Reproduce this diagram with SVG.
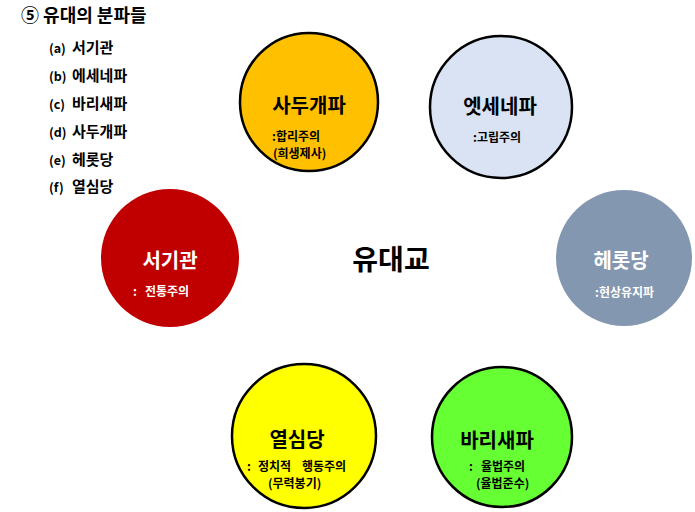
<svg xmlns="http://www.w3.org/2000/svg" width="695" height="512" viewBox="0 0 695 512">
<style>
text{font-family:"Noto Sans CJK KR","Noto Sans",sans-serif;font-weight:bold;fill:#000}
.t{font-size:18px}
.li{font-size:15px}
.lp{font-size:12.5px}
.lab{font-size:20px;text-anchor:middle}
.sub{font-size:12px}
.w{fill:#fff}
.bd{stroke:#000;stroke-width:2.5}
</style>
<rect width="695" height="512" fill="#fff"/>
<g id="title">
<text class="t" x="21" y="22">⑤ 유대의 분파들</text>
</g>
<g id="list">
<text x="49" y="53"><tspan class="lp">(a)</tspan><tspan class="li" x="72">서기관</tspan></text>
<text x="49" y="81"><tspan class="lp">(b)</tspan><tspan class="li" x="72">에세네파</tspan></text>
<text x="49" y="109"><tspan class="lp">(c)</tspan><tspan class="li" x="72">바리새파</tspan></text>
<text x="49" y="137"><tspan class="lp">(d)</tspan><tspan class="li" x="72">사두개파</tspan></text>
<text x="49" y="165"><tspan class="lp">(e)</tspan><tspan class="li" x="72">헤롯당</tspan></text>
<text x="49" y="192"><tspan class="lp">(f)</tspan><tspan class="li" x="72">열심당</tspan></text>
</g>
<g id="center">
<text x="391" y="270" font-size="28" text-anchor="middle">유대교</text>
</g>
<g id="sadducees">
<circle cx="309" cy="102" r="69" fill="#FFC000" class="bd"/>
<text class="lab" x="309" y="113">사두개파</text>
<text class="sub" x="272" y="140.5">:합리주의</text>
<text class="sub" x="273" y="158">(희생제사)</text>
</g>
<g id="essenes">
<circle cx="501" cy="107" r="71" fill="#DAE3F3" class="bd"/>
<text class="lab" x="500" y="114">엣세네파</text>
<text class="sub" x="473" y="142">:고립주의</text>
</g>
<g id="scribes">
<circle cx="170" cy="258" r="69" fill="#C00000"/>
<text class="lab w" x="170" y="268">서기관</text>
<text class="sub w" x="133" y="296">:<tspan x="145">전통주의</tspan></text>
</g>
<g id="herodians">
<circle cx="624" cy="258" r="68" fill="#8497B0"/>
<text class="lab w" x="621" y="268">헤롯당</text>
<text class="sub w" x="595" y="297">:현상유지파</text>
</g>
<g id="zealots">
<circle cx="304" cy="436" r="72" fill="#FFFF00" class="bd"/>
<text class="lab" x="297" y="447">열심당</text>
<text class="sub" x="247" y="470.5">:<tspan x="258">정치적</tspan><tspan x="302">행동주의</tspan></text>
<text class="sub" x="268" y="488">(무력봉기)</text>
</g>
<g id="pharisees">
<circle cx="502" cy="437" r="70" fill="#66FF33" class="bd"/>
<text class="lab" x="497" y="448">바리새파</text>
<text class="sub" x="469" y="470.5">:<tspan x="481">율법주의</tspan></text>
<text class="sub" x="476" y="488">(율법준수)</text>
</g>
<g id="connectors"></g>
</svg>
